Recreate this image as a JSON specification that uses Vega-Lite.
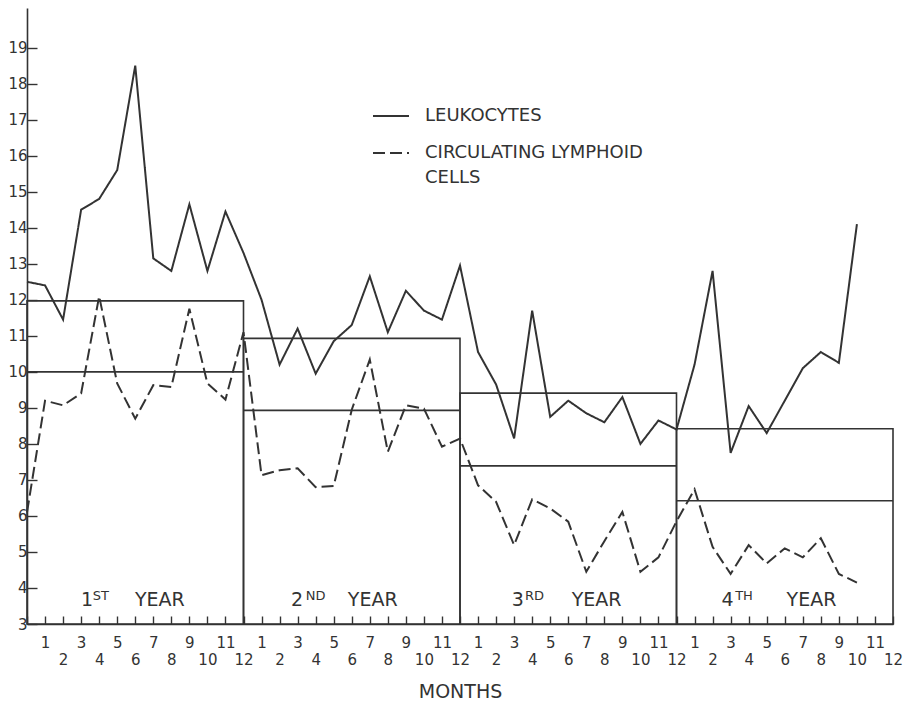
{
  "$schema": "https://vega.github.io/schema/vega-lite/v6.json",
  "width": 866,
  "height": 616,
  "autosize": {"type": "none"},
  "padding": {"left": 27, "top": 8, "right": 18, "bottom": 82},
  "background": "white",
  "config": {
    "view": {"stroke": null},
    "font": "DejaVu Sans",
    "style": {"guide-label": {"lineHeight": 25}},
    "axis": {"grid": false, "domainColor": "#333", "domainWidth": 1.6, "tickColor": "#333", "tickWidth": 1.4, "labelColor": "#333", "titleColor": "#333", "labelFont": "DejaVu Sans", "titleFont": "DejaVu Sans", "labelFontSize": 15, "labelOverlap": false, "labelFlush": false, "labelBound": false},
    "axisX": {
      "tickCount": 48,
      "labelExpr": "datum.value < 1 ? '' : (datum.value % 2 == 1 ? '' + ((datum.value - 1) % 12 + 1) : ['', '' + ((datum.value - 1) % 12 + 1)])",
      "labelLineHeight": 17,
      "tickSize": -8,
      "labelPadding": 19,
      "titleFontSize": 19,
      "titleFontWeight": "normal",
      "titlePadding": 15
    },
    "axisY": {
      "tickCount": 17,
      "labelExpr": "datum.value > 19.5 ? '' : datum.label",
      "tickSize": -10,
      "labelPadding": 10
    }
  },
  "datasets": {
    "series": [
      {"month": 0, "value": 12.5, "series": "LEUKOCYTES"},
      {"month": 1, "value": 12.4, "series": "LEUKOCYTES"},
      {"month": 2, "value": 11.45, "series": "LEUKOCYTES"},
      {"month": 3, "value": 14.5, "series": "LEUKOCYTES"},
      {"month": 4, "value": 14.8, "series": "LEUKOCYTES"},
      {"month": 5, "value": 15.6, "series": "LEUKOCYTES"},
      {"month": 6, "value": 18.5, "series": "LEUKOCYTES"},
      {"month": 7, "value": 13.15, "series": "LEUKOCYTES"},
      {"month": 8, "value": 12.8, "series": "LEUKOCYTES"},
      {"month": 9, "value": 14.65, "series": "LEUKOCYTES"},
      {"month": 10, "value": 12.8, "series": "LEUKOCYTES"},
      {"month": 11, "value": 14.45, "series": "LEUKOCYTES"},
      {"month": 12, "value": 13.3, "series": "LEUKOCYTES"},
      {"month": 13, "value": 12.0, "series": "LEUKOCYTES"},
      {"month": 14, "value": 10.2, "series": "LEUKOCYTES"},
      {"month": 15, "value": 11.2, "series": "LEUKOCYTES"},
      {"month": 16, "value": 9.95, "series": "LEUKOCYTES"},
      {"month": 17, "value": 10.85, "series": "LEUKOCYTES"},
      {"month": 18, "value": 11.3, "series": "LEUKOCYTES"},
      {"month": 19, "value": 12.65, "series": "LEUKOCYTES"},
      {"month": 20, "value": 11.1, "series": "LEUKOCYTES"},
      {"month": 21, "value": 12.25, "series": "LEUKOCYTES"},
      {"month": 22, "value": 11.7, "series": "LEUKOCYTES"},
      {"month": 23, "value": 11.45, "series": "LEUKOCYTES"},
      {"month": 24, "value": 12.95, "series": "LEUKOCYTES"},
      {"month": 25, "value": 10.55, "series": "LEUKOCYTES"},
      {"month": 26, "value": 9.65, "series": "LEUKOCYTES"},
      {"month": 27, "value": 8.15, "series": "LEUKOCYTES"},
      {"month": 28, "value": 11.7, "series": "LEUKOCYTES"},
      {"month": 29, "value": 8.75, "series": "LEUKOCYTES"},
      {"month": 30, "value": 9.2, "series": "LEUKOCYTES"},
      {"month": 31, "value": 8.85, "series": "LEUKOCYTES"},
      {"month": 32, "value": 8.6, "series": "LEUKOCYTES"},
      {"month": 33, "value": 9.3, "series": "LEUKOCYTES"},
      {"month": 34, "value": 8.0, "series": "LEUKOCYTES"},
      {"month": 35, "value": 8.65, "series": "LEUKOCYTES"},
      {"month": 36, "value": 8.4, "series": "LEUKOCYTES"},
      {"month": 37, "value": 10.2, "series": "LEUKOCYTES"},
      {"month": 38, "value": 12.8, "series": "LEUKOCYTES"},
      {"month": 39, "value": 7.75, "series": "LEUKOCYTES"},
      {"month": 40, "value": 9.05, "series": "LEUKOCYTES"},
      {"month": 41, "value": 8.3, "series": "LEUKOCYTES"},
      {"month": 42, "value": 9.2, "series": "LEUKOCYTES"},
      {"month": 43, "value": 10.1, "series": "LEUKOCYTES"},
      {"month": 44, "value": 10.55, "series": "LEUKOCYTES"},
      {"month": 45, "value": 10.25, "series": "LEUKOCYTES"},
      {"month": 46, "value": 14.1, "series": "LEUKOCYTES"},
      {"month": 0, "value": 6.1, "series": "CIRCULATING LYMPHOID CELLS"},
      {"month": 1, "value": 9.2, "series": "CIRCULATING LYMPHOID CELLS"},
      {"month": 2, "value": 9.07, "series": "CIRCULATING LYMPHOID CELLS"},
      {"month": 3, "value": 9.4, "series": "CIRCULATING LYMPHOID CELLS"},
      {"month": 4, "value": 12.1, "series": "CIRCULATING LYMPHOID CELLS"},
      {"month": 5, "value": 9.68, "series": "CIRCULATING LYMPHOID CELLS"},
      {"month": 6, "value": 8.7, "series": "CIRCULATING LYMPHOID CELLS"},
      {"month": 7, "value": 9.63, "series": "CIRCULATING LYMPHOID CELLS"},
      {"month": 8, "value": 9.58, "series": "CIRCULATING LYMPHOID CELLS"},
      {"month": 9, "value": 11.75, "series": "CIRCULATING LYMPHOID CELLS"},
      {"month": 10, "value": 9.68, "series": "CIRCULATING LYMPHOID CELLS"},
      {"month": 11, "value": 9.23, "series": "CIRCULATING LYMPHOID CELLS"},
      {"month": 12, "value": 11.1, "series": "CIRCULATING LYMPHOID CELLS"},
      {"month": 13, "value": 7.13, "series": "CIRCULATING LYMPHOID CELLS"},
      {"month": 14, "value": 7.27, "series": "CIRCULATING LYMPHOID CELLS"},
      {"month": 15, "value": 7.32, "series": "CIRCULATING LYMPHOID CELLS"},
      {"month": 16, "value": 6.8, "series": "CIRCULATING LYMPHOID CELLS"},
      {"month": 17, "value": 6.83, "series": "CIRCULATING LYMPHOID CELLS"},
      {"month": 18, "value": 8.95, "series": "CIRCULATING LYMPHOID CELLS"},
      {"month": 19, "value": 10.34, "series": "CIRCULATING LYMPHOID CELLS"},
      {"month": 20, "value": 7.78, "series": "CIRCULATING LYMPHOID CELLS"},
      {"month": 21, "value": 9.07, "series": "CIRCULATING LYMPHOID CELLS"},
      {"month": 22, "value": 8.98, "series": "CIRCULATING LYMPHOID CELLS"},
      {"month": 23, "value": 7.92, "series": "CIRCULATING LYMPHOID CELLS"},
      {"month": 24, "value": 8.15, "series": "CIRCULATING LYMPHOID CELLS"},
      {"month": 25, "value": 6.85, "series": "CIRCULATING LYMPHOID CELLS"},
      {"month": 26, "value": 6.39, "series": "CIRCULATING LYMPHOID CELLS"},
      {"month": 27, "value": 5.19, "series": "CIRCULATING LYMPHOID CELLS"},
      {"month": 28, "value": 6.46, "series": "CIRCULATING LYMPHOID CELLS"},
      {"month": 29, "value": 6.21, "series": "CIRCULATING LYMPHOID CELLS"},
      {"month": 30, "value": 5.84, "series": "CIRCULATING LYMPHOID CELLS"},
      {"month": 31, "value": 4.45, "series": "CIRCULATING LYMPHOID CELLS"},
      {"month": 32, "value": 5.3, "series": "CIRCULATING LYMPHOID CELLS"},
      {"month": 33, "value": 6.11, "series": "CIRCULATING LYMPHOID CELLS"},
      {"month": 34, "value": 4.45, "series": "CIRCULATING LYMPHOID CELLS"},
      {"month": 35, "value": 4.85, "series": "CIRCULATING LYMPHOID CELLS"},
      {"month": 36, "value": 5.85, "series": "CIRCULATING LYMPHOID CELLS"},
      {"month": 37, "value": 6.74, "series": "CIRCULATING LYMPHOID CELLS"},
      {"month": 38, "value": 5.14, "series": "CIRCULATING LYMPHOID CELLS"},
      {"month": 39, "value": 4.39, "series": "CIRCULATING LYMPHOID CELLS"},
      {"month": 40, "value": 5.19, "series": "CIRCULATING LYMPHOID CELLS"},
      {"month": 41, "value": 4.68, "series": "CIRCULATING LYMPHOID CELLS"},
      {"month": 42, "value": 5.1, "series": "CIRCULATING LYMPHOID CELLS"},
      {"month": 43, "value": 4.85, "series": "CIRCULATING LYMPHOID CELLS"},
      {"month": 44, "value": 5.38, "series": "CIRCULATING LYMPHOID CELLS"},
      {"month": 45, "value": 4.39, "series": "CIRCULATING LYMPHOID CELLS"},
      {"month": 46, "value": 4.15, "series": "CIRCULATING LYMPHOID CELLS"}
    ],
    "years": [
      {"start": 0, "end": 12, "leuk": 11.97, "lymph": 10.0, "num": "1", "suf": "ST", "numAt": 2.99, "sufAt": 3.65, "wordAt": 5.98},
      {"start": 12, "end": 24, "leuk": 10.93, "lymph": 8.93, "num": "2", "suf": "ND", "numAt": 14.63, "sufAt": 15.45, "wordAt": 17.78},
      {"start": 24, "end": 36, "leuk": 9.41, "lymph": 7.39, "num": "3", "suf": "RD", "numAt": 26.87, "sufAt": 27.6, "wordAt": 30.19},
      {"start": 36, "end": 48, "leuk": 8.42, "lymph": 6.42, "num": "4", "suf": "TH", "numAt": 38.5, "sufAt": 39.25, "wordAt": 42.1}
    ]
  },
  "layer": [
    {
      "data": {"name": "series"},
      "mark": {"type": "line", "color": "#333", "strokeWidth": 2},
      "encoding": {
        "x": {"field": "month", "type": "quantitative", "title": "MONTHS", "scale": {"domain": [0, 48], "nice": false, "zero": false}},
        "y": {"field": "value", "type": "quantitative", "title": null, "scale": {"domain": [3, 20.1], "nice": false, "zero": false},
          "axis": {"tickOpacity": {"condition": {"test": "datum.value > 19.5", "value": 0}, "value": 1}}},
        "strokeDash": {"field": "series", "type": "nominal",
          "scale": {"domain": ["LEUKOCYTES", "CIRCULATING LYMPHOID CELLS"], "range": [[1, 0], [12, 5]]},
          "legend": {
            "orient": "none", "legendX": 345, "legendY": 89, "padding": 0, "title": null,
            "symbolType": "stroke", "symbolSize": 1296, "symbolStrokeWidth": 2, "symbolStrokeColor": "#333",
            "labelFontSize": 18, "labelFont": "DejaVu Sans", "labelColor": "#333", "labelOffset": 15, "labelLimit": 400,
            "rowPadding": 9,
            "labelExpr": "datum.label == 'CIRCULATING LYMPHOID CELLS' ? ['CIRCULATING LYMPHOID', 'CELLS'] : datum.label"
          }}
      }
    },
    {
      "data": {"name": "years"},
      "mark": {"type": "rect", "fill": "transparent", "stroke": "#333", "strokeWidth": 1.6},
      "encoding": {
        "x": {"field": "start", "type": "quantitative", "title": "MONTHS"},
        "x2": {"field": "end"},
        "y": {"field": "leuk", "type": "quantitative", "title": null},
        "y2": {"datum": 3}
      }
    },
    {
      "data": {"name": "years"},
      "mark": {"type": "rule", "stroke": "#333", "strokeWidth": 1.6},
      "encoding": {
        "x": {"field": "start", "type": "quantitative", "title": "MONTHS"},
        "x2": {"field": "end"},
        "y": {"field": "lymph", "type": "quantitative", "title": null}
      }
    },
    {
      "data": {"name": "years"},
      "mark": {"type": "text", "align": "left", "baseline": "alphabetic", "fontSize": 19, "color": "#333", "font": "DejaVu Sans"},
      "encoding": {
        "x": {"field": "numAt", "type": "quantitative", "title": "MONTHS"},
        "y": {"datum": 3.5},
        "text": {"field": "num"}
      }
    },
    {
      "data": {"name": "years"},
      "mark": {"type": "text", "align": "left", "baseline": "alphabetic", "fontSize": 13, "color": "#333", "font": "DejaVu Sans"},
      "encoding": {
        "x": {"field": "sufAt", "type": "quantitative", "title": "MONTHS"},
        "y": {"datum": 3.67},
        "text": {"field": "suf"}
      }
    },
    {
      "data": {"name": "years"},
      "mark": {"type": "text", "align": "left", "baseline": "alphabetic", "fontSize": 19, "color": "#333", "font": "DejaVu Sans"},
      "encoding": {
        "x": {"field": "wordAt", "type": "quantitative", "title": "MONTHS"},
        "y": {"datum": 3.5},
        "text": {"value": "YEAR"}
      }
    }
  ]
}
